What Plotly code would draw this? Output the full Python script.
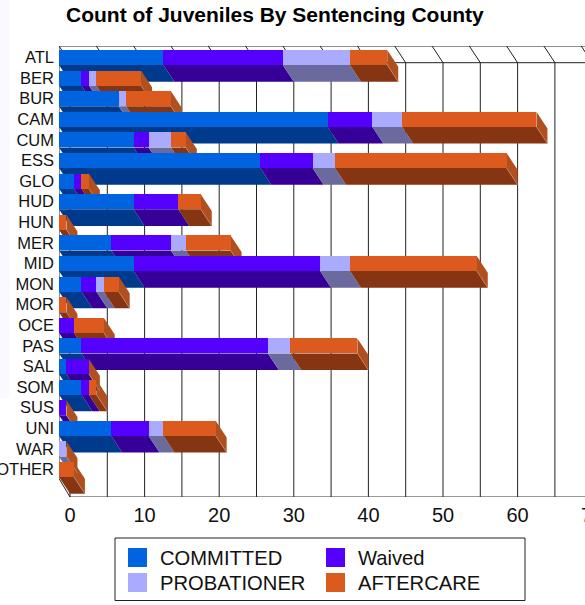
import plotly.graph_objects as go

counties = ["ATL","BER","BUR","CAM","CUM","ESS","GLO","HUD","HUN","MER","MID","MON","MOR","OCE","PAS","SAL","SOM","SUS","UNI","WAR","OTHER"]
committed = [14,3,8,36,10,27,2,10,0,7,10,3,0,0,3,1,3,0,7,0,0]
waived    = [16,1,0,6,2,7,1,6,0,8,25,2,0,2,25,3,1,1,5,0,0]
probationer=[9,1,1,4,3,3,0,0,0,2,4,1,0,0,3,0,0,0,2,1,0]
aftercare = [5,6,6,18,2,23,1,3,1,6,17,2,1,4,9,0,1,0,7,0,2]
series_names = ["COMMITTED","Waived","PROBATIONER","AFTERCARE"]
series_vals = [committed, waived, probationer, aftercare]
front_cols = ["#0064E1","#5500FF","#AAAAFF","#DD5A1E"]
under_cols = ["#003A8C","#360098","#6A6A9F","#863512"]
END_COL = "#B0501E"
SEAM_COL = "#C08A6C"

W, H = 620, 605
PX = 7.46; PITCH = 20.6
L, T, B = 59, 46, 497
X0_GRID = 70; Y0 = 57.5
DX = (X0_GRID - L) / PX
DY = 16.7 / PITCH
BH = 15 / PITCH
span = (W - L) / PX
yrange = [(B - Y0) / PITCH, (T - Y0) / PITCH]
ytop, ybot = yrange[1], yrange[0]

fig = go.Figure()

# depth faces, main subplot (below); their far edge sits on the true value of the grid axis
n = len(counties)
totals = [0]*n
for k, vals in enumerate(series_vals):
    xs, ys = [], []
    for i in range(n):
        a = totals[i]; b = a + vals[i]
        if vals[i] > 0:
            y0 = i + BH/2
            xs += [a-DX, b-DX, b, a, a-DX, None]
            ys += [y0, y0, y0+DY, y0+DY, y0, None]
        totals[i] = b
    fig.add_trace(go.Scatter(x=xs, y=ys, mode="lines", fill="toself", fillcolor=under_cols[k],
                             line=dict(width=0), hoverinfo="skip", showlegend=False))
xs, ys, sx, sy = [], [], [], []
for i in range(n):
    t = totals[i]
    xs += [t-DX, t, t, t-DX, t-DX, None]
    ys += [i-BH/2, i-BH/2+DY, i+BH/2+DY, i+BH/2, i-BH/2, None]
    sx += [t-DX, t, None]
    sy += [i+BH/2, i+BH/2+DY, None]
fig.add_trace(go.Scatter(x=xs, y=ys, mode="lines", fill="toself", fillcolor=END_COL,
                         line=dict(width=0), hoverinfo="skip", showlegend=False))
fig.add_trace(go.Scatter(x=sx, y=sy, mode="lines", line=dict(width=0.7, color=SEAM_COL),
                         hoverinfo="skip", showlegend=False))

# lit faces, overlay subplot
for k, vals in enumerate(series_vals):
    fig.add_trace(go.Bar(y=list(range(n)), x=vals, orientation="h", name=series_names[k],
                         marker=dict(color=front_cols[k], line=dict(width=0)),
                         width=BH, xaxis="x2", yaxis="y2", showlegend=False))

shapes = []
def seg(x0,y0,x1,y1,color="#000",w=1):
    shapes.append(dict(type="line",xref="x",yref="y",x0=x0,y0=y0,x1=x1,y1=y1,line=dict(color=color,width=w),layer="below"))
xmax = span - DX
for v in range(0, 75, 5):
    seg(v, ytop+DY, v, ybot, color="#222")
    seg(v-DX, ytop, v, ytop+DY, color="#222")
seg(-DX, ytop, xmax, ytop, color="#222")
seg(0, ytop+DY, xmax, ytop+DY, color="#222")
seg(0, ybot, xmax, ybot, color="#333")
seg(-DX, ytop, -DX, (478.5-Y0)/PITCH, color="#222")
seg(-DX, (478.5-Y0)/PITCH, 0, ybot, color="#222")

def px(x): return (x - L) / (W - L)
def py(y): return (B - y) / (B - T)
# pale strip at the far left of the page
shapes.append(dict(type="rect",xref="paper",yref="paper",x0=px(0),x1=px(9.5),y0=py(398),y1=py(0),
                   fillcolor="#FBF9FF",line=dict(width=0),layer="below"))
# legend box
shapes.append(dict(type="rect",xref="paper",yref="paper",x0=px(115),x1=px(525),y0=py(600.5),y1=py(538),
                   fillcolor="white",line=dict(color="#222",width=1)))
anns = []
leg_pos = [(128,548,"COMMITTED",0),(326,548,"Waived",1),(128,573,"PROBATIONER",2),(326,573,"AFTERCARE",3)]
for x,y,t,k in leg_pos:
    shapes.append(dict(type="rect",xref="paper",yref="paper",x0=px(x),x1=px(x+19),y0=py(y+19),y1=py(y),
                       fillcolor=front_cols[k],line=dict(width=0)))
    anns.append(dict(xref="paper",yref="paper",x=px(x+32),y=py(y+9.5),text=t,showarrow=False,xanchor="left",yanchor="middle",
                     font=dict(size=20.2,color="#111"),borderpad=0,borderwidth=0))
anns.append(dict(xref="paper",yref="paper",x=px(64.5),y=py(15),text="<b>Count of Juveniles By Sentencing County</b>",
                 showarrow=False,xanchor="left",yanchor="middle",font=dict(size=21,color="#000"),borderpad=0))

fig.update_layout(
    width=W, height=H, autosize=False,
    margin=dict(l=L, r=0, t=T, b=H-B, pad=0),
    paper_bgcolor="white", plot_bgcolor="rgba(0,0,0,0)",
    barmode="stack", showlegend=False,
    font=dict(family="Liberation Sans, Arial, sans-serif", color="#111"),
    xaxis=dict(range=[-DX, xmax], tickvals=list(range(0,80,10)), showgrid=False, zeroline=False, showline=False,
               ticks="", tickfont=dict(size=20), automargin=False, ticklabelstandoff=4),
    yaxis=dict(range=yrange, tickvals=list(range(n)), ticktext=counties, showgrid=False, zeroline=False,
               showline=False, ticks="", tickfont=dict(size=16.5), ticklabelstandoff=4, automargin=False),
    xaxis2=dict(range=[0, span], overlaying="x", visible=False),
    yaxis2=dict(range=yrange, overlaying="y", visible=False),
    shapes=shapes, annotations=anns,
)
post = "document.body.style.margin='0';document.documentElement.style.overflow='hidden';document.body.style.overflow='hidden';"
fig.write_html("out.html", post_script=post, config={"displayModeBar": False})
